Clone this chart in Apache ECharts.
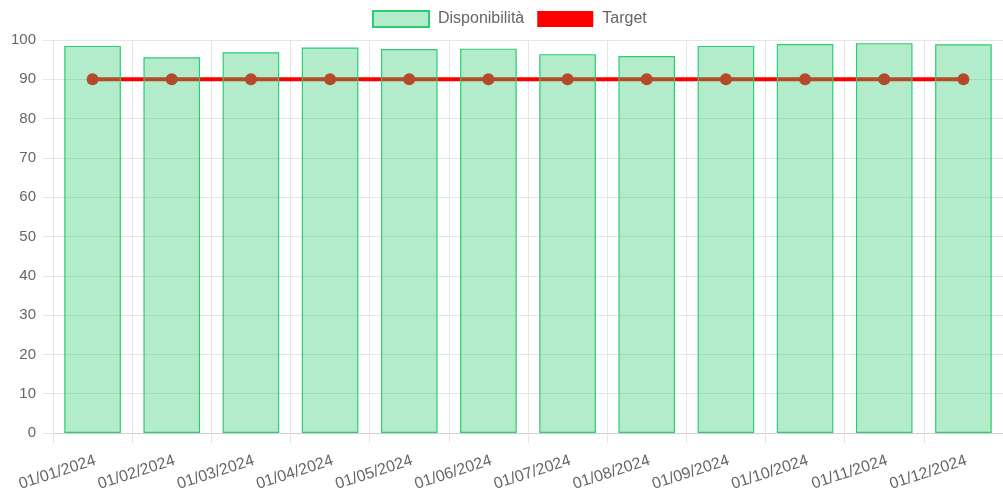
<!DOCTYPE html>
<html>
<head>
<meta charset="utf-8">
<script src="https://cdn.jsdelivr.net/npm/echarts@6/dist/echarts.min.js"></script>
<style>
  html, body { margin: 0; padding: 0; background: #fff; }
  #chart { width: 1003px; height: 501px; }
</style>
</head>
<body>
<div id="chart"></div>
<script>
// Monthly availability vs. target
const categories = ['01/01/2024', '01/02/2024', '01/03/2024', '01/04/2024', '01/05/2024', '01/06/2024',
                    '01/07/2024', '01/08/2024', '01/09/2024', '01/10/2024', '01/11/2024', '01/12/2024'];
const disponibilita = [98.5, 95.6, 96.9, 98.1, 97.7, 97.8, 96.4, 95.9, 98.5, 99.0, 99.2, 98.9];
const target = [90, 90, 90, 90, 90, 90, 90, 90, 90, 90, 90, 90];
const yTicks = { min: 0, max: 100, interval: 10 };

const FONT = '"Liberation Sans", Arial, Helvetica, sans-serif';
const TEXT = '#666';
const GRID = '#e6e6e6';

const chart = echarts.init(document.getElementById('chart'));
chart.setOption({
  animation: false,
  textStyle: { fontFamily: FONT },
  legend: {
    top: 5,
    left: 367,
    itemWidth: 56,
    itemHeight: 16,
    itemGap: 13,
    icon: 'rect',
    textStyle: { color: TEXT, fontSize: 16, fontFamily: FONT, padding: [0, 0, 0, 4] },
    data: ['Disponibilità', 'Target']
  },
  grid: { left: 53, right: -4, top: 40, bottom: 68 },
  xAxis: {
    type: 'category',
    data: categories,
    boundaryGap: true,
    axisLine: { show: true, lineStyle: { color: '#d0d0d0', width: 1 } },
    axisTick: { show: true, length: 10, lineStyle: { color: GRID } },
    splitLine: { show: true, lineStyle: { color: GRID } },
    axisLabel: { rotate: 18, color: TEXT, fontSize: 16, fontFamily: FONT, margin: 28, interval: 0, padding: [0, -3, 0, 0] }
  },
  yAxis: {
    type: 'value',
    min: yTicks.min,
    max: yTicks.max,
    interval: yTicks.interval,
    axisLine: { show: true, lineStyle: { color: GRID } },
    axisTick: { show: true, length: 10, lineStyle: { color: GRID } },
    splitLine: { show: true, lineStyle: { color: GRID } },
    axisLabel: { color: TEXT, fontSize: 15, fontFamily: FONT, margin: 17 }
  },
  series: [
    {
      name: 'Target',
      type: 'line',
      data: target,
      z: 1,
      symbol: 'circle',
      symbolSize: 12,
      lineStyle: { color: '#ff0000', width: 4 },
      itemStyle: { color: '#ff0000' }
    },
    {
      name: 'Disponibilità',
      type: 'bar',
      data: disponibilita,
      z: 3,
      barWidth: '71.5%',
      itemStyle: {
        color: 'rgba(46,204,113,0.37)',
        borderColor: '#2ecc71',
        borderWidth: 1.2
      }
    }
  ]
});
</script>
</body>
</html>
